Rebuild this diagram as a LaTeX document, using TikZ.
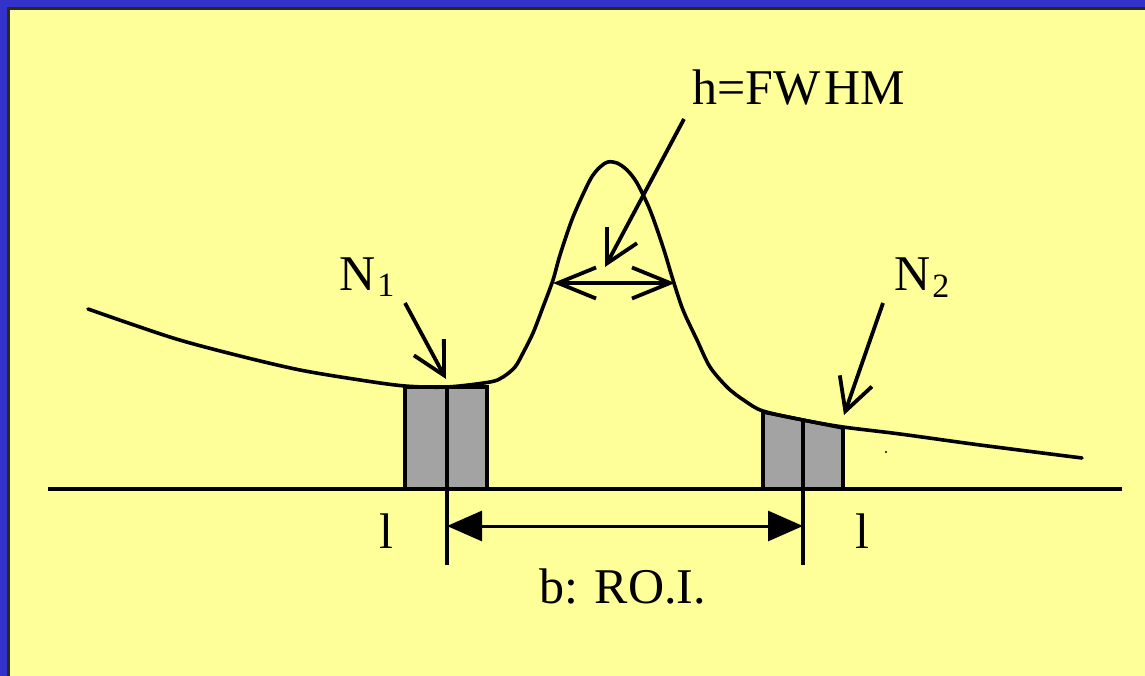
\documentclass[tikz,border=0pt]{standalone}
\usepackage{fontspec}
\setmainfont{Liberation Serif}
\usetikzlibrary{arrows.meta}
\definecolor{bgblue}{HTML}{3333CC}
\definecolor{bgyellow}{HTML}{FFFF99}
\definecolor{frameline}{HTML}{2A2A1A}
\tikzset{
 curve/.style={line width=3.6pt, line join=round, line cap=round},
 pointer/.style={line width=3.8pt, -{Straight Barb[length=32pt,width=34pt]}},
 fwhm/.style={line width=3.8pt, {Straight Barb[length=38pt,width=31pt]}-{Straight Barb[length=38pt,width=31pt]}},
 roi/.style={line width=3pt, {Triangle[length=35pt,width=30pt]}-{Triangle[length=35pt,width=30pt]}},
 chan/.style={fill=black!36, draw=black, line width=3.6pt},
 thick3/.style={line width=3.6pt},
 lbl/.style={font=\fontsize{50}{56}\selectfont, inner sep=0pt},
}
\begin{document}
\begin{tikzpicture}[x=1pt,y=-1pt]
\useasboundingbox (0,0) rectangle (1145,676);
\fill[bgblue] (0,0) rectangle (1145,676);
\fill[bgyellow] (8,8) rectangle (1145,676);
\draw[frameline, line width=2.5pt] (8.5,676) -- (8.5,8.5) -- (1145,8.5);
% channel boxes
\path[chan] (405,489) rectangle (487,387);
\path[chan] (763,489) -- (763,412) -- (843,428) -- (843,489) -- cycle;
% axis
\draw[thick3] (48,489) -- (1122,489);
% spectrum curve
\draw[curve] plot[smooth, tension=0.5] coordinates {
 (88,309) (173,338) (240,356) (300,370) (360,380) (405,386) (447,387)
 (490,382) (503,377) (515,367) (523,353) (533,333) (543,307) (553,280)
 (560,255) (573,217) (590,180) (600,167) (608,162) (617,163) (627,170)
 (637,183) (650,210) (663,247) (673,280) (683,310) (697,340) (710,367)
 (728,388) (745,401) (763,411) (803,420) (843,427)
 (900,434) (980,445) (1082,458)};
% channel centre / extension lines
\draw[thick3] (447,386) -- (447,565);
\draw[thick3] (803,420) -- (803,565);
% ROI arrow
\coordinate (roiL) at (447,526);
\coordinate (roiR) at (803,526);
\draw[roi] (roiL) -- (roiR);
% labels
\node[lbl, anchor=base west] (fwhmlbl) at (692,105) {h=FW\kern4pt HM};
\node[lbl, anchor=base west] (roilbl) at (539,603) {b: RO.I.};
\node[lbl, anchor=base] (l1) at (386,548) {l};
\node[lbl, anchor=base] (l2) at (862,548) {l};
\node[lbl, anchor=base west] (n1) at (339,290) {N\kern2pt\raisebox{-6pt}{\fontsize{34}{34}\selectfont 1}};
\node[lbl, anchor=base west] (n2) at (894,290) {N\kern2pt\raisebox{-8pt}{\fontsize{34}{34}\selectfont 2}};
% pointer arrows
\coordinate (n1s) at (405,303);
\coordinate (n1t) at (446,379);
\coordinate (n2s) at (883,303);
\coordinate (n2t) at (844,415);
\coordinate (fs) at (684,119);
\coordinate (ft) at (605,267);
\coordinate (hL) at (553,283);
\coordinate (hR) at (675,283);
\draw[pointer] (n1s) -- (n1t);
\draw[pointer] (n2s) -- (n2t);
\draw[pointer] (fs) -- (ft);
\draw[fwhm] (hL) -- (hR);
\fill (886,452) circle (1.2pt);
\end{tikzpicture}
\end{document}
